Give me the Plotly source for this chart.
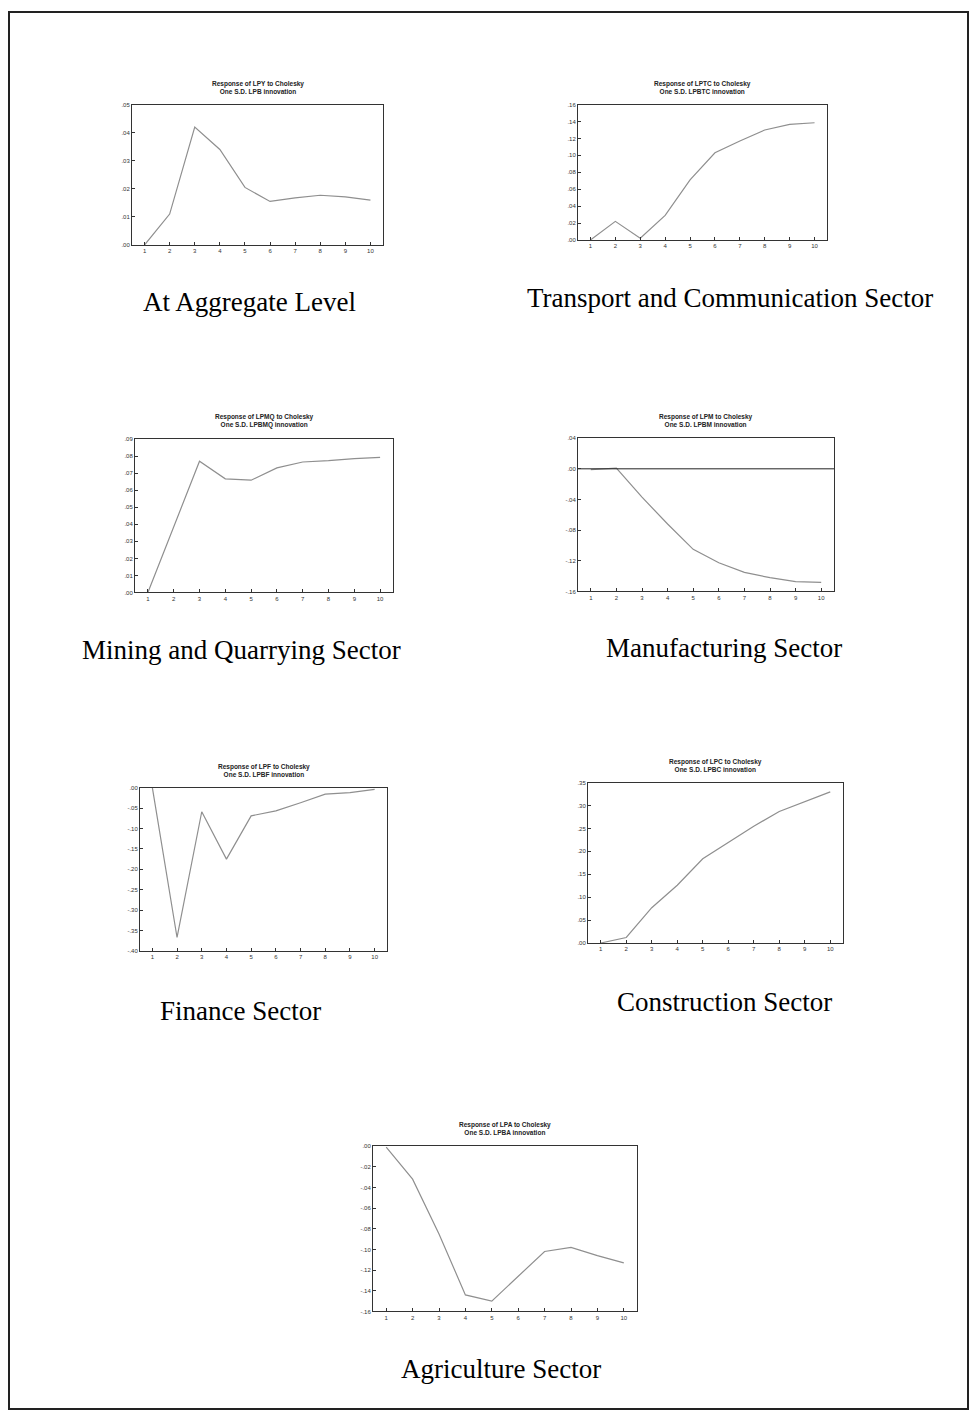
import plotly.graph_objects as go

W, H = 971, 1415
periods = [1, 2, 3, 4, 5, 6, 7, 8, 9, 10]

titles = [
    "Response of LPY to Cholesky<br>One S.D. LPB innovation",
    "Response of LPTC to Cholesky<br>One S.D. LPBTC innovation",
    "Response of LPMQ to Cholesky<br>One S.D. LPBMQ innovation",
    "Response of LPM to Cholesky<br>One S.D. LPBM innovation",
    "Response of LPF to Cholesky<br>One S.D. LPBF innovation",
    "Response of LPC to Cholesky<br>One S.D. LPBC innovation",
    "Response of LPA to Cholesky<br>One S.D. LPBA innovation",
]
captions = [
    "At Aggregate Level",
    "Transport and Communication Sector",
    "Mining and Quarrying Sector",
    "Manufacturing Sector",
    "Finance Sector",
    "Construction Sector",
    "Agriculture Sector",
]

aggregate = [0.000, 0.011, 0.042, 0.034, 0.0205, 0.0155, 0.0168, 0.0177, 0.0171, 0.016]
transport = [0.000, 0.022, 0.002, 0.029, 0.071, 0.103, 0.117, 0.130, 0.1365, 0.1385]
mining = [0.000, 0.039, 0.077, 0.0667, 0.0659, 0.0731, 0.0766, 0.0774, 0.0786, 0.0793]
manufacturing = [-0.001, 0.001, -0.037, -0.072, -0.105, -0.1225, -0.135, -0.142, -0.147, -0.148]
finance = [0.000, -0.367, -0.059, -0.175, -0.069, -0.057, -0.037, -0.016, -0.012, -0.004]
construction = [0.000, 0.012, 0.077, 0.126, 0.184, 0.220, 0.255, 0.287, 0.309, 0.330]
agriculture = [-0.001, -0.032, -0.085, -0.144, -0.150, -0.126, -0.102, -0.098, -0.106, -0.113]

ticks_aggregate = [0.00, 0.01, 0.02, 0.03, 0.04, 0.05]
ticks_transport = [0.00, 0.02, 0.04, 0.06, 0.08, 0.10, 0.12, 0.14, 0.16]
ticks_mining = [0.00, 0.01, 0.02, 0.03, 0.04, 0.05, 0.06, 0.07, 0.08, 0.09]
ticks_manufacturing = [-0.16, -0.12, -0.08, -0.04, 0.00, 0.04]
ticks_finance = [-0.40, -0.35, -0.30, -0.25, -0.20, -0.15, -0.10, -0.05, 0.00]
ticks_construction = [0.00, 0.05, 0.10, 0.15, 0.20, 0.25, 0.30, 0.35]
ticks_agriculture = [-0.16, -0.14, -0.12, -0.10, -0.08, -0.06, -0.04, -0.02, 0.00]

series = [aggregate, transport, mining, manufacturing, finance, construction, agriculture]
ticks = [ticks_aggregate, ticks_transport, ticks_mining, ticks_manufacturing,
         ticks_finance, ticks_construction, ticks_agriculture]
zero_line = [False, False, False, True, False, False, False]

# plot frames in pixels: left, right, top, bottom
frames = [
    (132, 383, 102, 243),
    (578, 827, 102, 238),
    (135, 393, 438, 592),
    (578, 834, 437, 591),
    (140, 387, 788, 952),
    (588, 843, 783, 944),
    (373, 637, 1148, 1314),
]
caption_pos = [(249, 300), (730, 296), (241, 650), (724, 648), (240, 1012), (724, 1003), (501, 1372)]


def fmt(v):
    s = f"{v:.2f}"
    s = s.replace("0.", ".", 1)
    return s


fig = go.Figure()
annotations = []
shapes = []
for i, (ys, tv) in enumerate(zip(series, ticks)):
    n = i + 1
    xa = "x" if n == 1 else f"x{n}"
    ya = "y" if n == 1 else f"y{n}"
    l, r, t, b = frames[i]
    fig.add_trace(go.Scatter(x=periods, y=ys, mode="lines", xaxis=xa, yaxis=ya,
                             line=dict(color="#8f8f8f", width=1.2), showlegend=False))
    if zero_line[i]:
        fig.add_trace(go.Scatter(x=[0.5, 10.5], y=[0, 0], mode="lines", xaxis=xa, yaxis=ya,
                                 line=dict(color="#222", width=1), showlegend=False))
    xkey = "xaxis" if n == 1 else f"xaxis{n}"
    ykey = "yaxis" if n == 1 else f"yaxis{n}"
    fig.layout[xkey] = dict(domain=[l / W, r / W], anchor=ya, range=[0.5, 10.5],
                            tickvals=periods, ticktext=[str(p) for p in periods],
                            ticks="inside", ticklen=3, tickcolor="#333",
                            showline=True, linecolor="#333", linewidth=1, mirror=True,
                            showgrid=False, zeroline=False,
                            tickfont=dict(family="Arial", size=6, color="#333"))
    fig.layout[ykey] = dict(domain=[1 - b / H, 1 - t / H], anchor=xa, range=[min(tv), max(tv)],
                            tickvals=tv, ticktext=[fmt(v) for v in tv],
                            ticks="inside", ticklen=3, tickcolor="#333",
                            showline=True, linecolor="#333", linewidth=1, mirror=True,
                            showgrid=False, zeroline=False,
                            tickfont=dict(family="Arial", size=6, color="#333"))
    annotations.append(dict(text="<b>" + titles[i] + "</b>", x=(l + r) / 2 / W, y=1 - (t - 8) / H,
                            xref="paper", yref="paper", xanchor="center", yanchor="bottom",
                            showarrow=False, font=dict(family="Arial", size=6.5, color="#222")))
    cx, cy = caption_pos[i]
    annotations.append(dict(text=captions[i], x=cx / W, y=1 - cy / H, xref="paper", yref="paper",
                            xanchor="center", yanchor="middle", showarrow=False,
                            font=dict(family="Liberation Serif", size=27, color="#000")))

shapes.append(dict(type="rect", xref="paper", yref="paper", x0=9 / W, x1=968 / W,
                   y0=1 - 1412 / H, y1=1 - 9 / H, line=dict(color="#222", width=2)))

fig.update_layout(width=W, height=H, margin=dict(l=0, r=0, t=0, b=0),
                  paper_bgcolor="white", plot_bgcolor="white",
                  annotations=annotations, shapes=shapes)
fig.write_html("out.html")
